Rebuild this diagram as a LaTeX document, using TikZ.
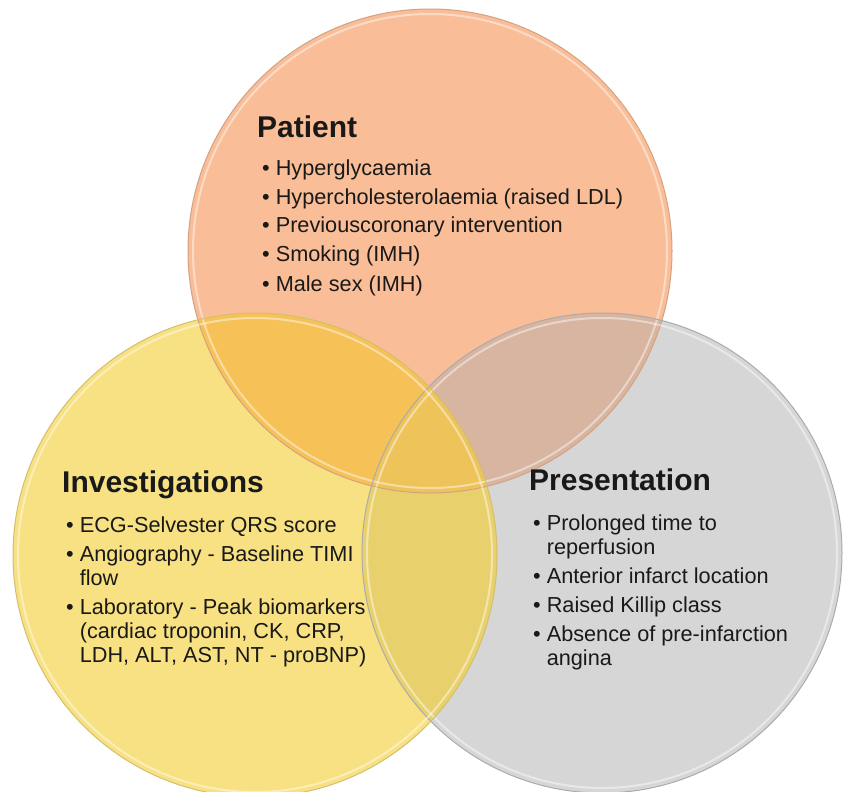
\documentclass[tikz,border=0pt]{standalone}
\usepackage{fontspec}
\setmainfont{Liberation Sans}
\usepackage{tikz}
\usetikzlibrary{positioning}
\definecolor{patientfill}{RGB}{249,190,152}
\definecolor{investfill}{RGB}{248,225,130}
\definecolor{presentfill}{RGB}{214,214,214}
\definecolor{patinvfill}{RGB}{246,194,88}
\definecolor{patprefill}{RGB}{216,181,160}
\definecolor{invprefill}{RGB}{232,209,108}
\definecolor{allfill}{RGB}{237,195,90}
\tikzset{
  heading/.style={anchor=base west, inner sep=0pt, text=black!90,
    font=\fontsize{30}{35}\selectfont\bfseries},
  points/.style={anchor=base west, inner sep=0pt, text=black!90,
    font=\fontsize{21.7}{24}\selectfont},
  rim/.style={draw=#1, line width=1pt},
  shine/.style={draw=white, draw opacity=0.45, line width=2pt}
}

\begin{document}
\begin{tikzpicture}[x=1pt, y=-1pt]
    \useasboundingbox (0,0) rectangle (844,792);
    \coordinate (patc) at (430,251);
    \coordinate (invc) at (255,555);
    \coordinate (prec) at (602,553);

    % plain discs
    \fill[patientfill] (patc) circle[radius=242pt];
    \fill[presentfill] (prec) circle[radius=240pt];
    \fill[investfill] (invc) circle[radius=242pt];

    % overlaps
    \begin{scope}
      \clip (patc) circle[radius=242pt];
      \fill[patinvfill] (invc) circle[radius=242pt];
      \fill[patprefill] (prec) circle[radius=240pt];
    \end{scope}
    \begin{scope}
      \clip (invc) circle[radius=242pt];
      \fill[invprefill] (prec) circle[radius=240pt];
      \clip (patc) circle[radius=242pt];
      \fill[allfill] (prec) circle[radius=240pt];
    \end{scope}

    % glassy rims
    \draw[rim=patientfill!85!black] (patc) circle[radius=242pt];
    \draw[shine] (patc) circle[radius=237pt];
    \draw[rim=presentfill!80!black] (prec) circle[radius=240pt];
    \draw[shine] (prec) circle[radius=235pt];
    \draw[rim=investfill!85!black] (invc) circle[radius=242pt];
    \draw[shine] (invc) circle[radius=237pt];

    \node[heading] (pattitle) at (257,137) {Patient};
    \node[points] (patlist) at (262,175) {\begin{tabular}[t]{@{}l@{\hspace{6pt}}l@{}}
      \textbullet & Hyperglycaemia\\[5pt]
      \textbullet & Hypercholesterolaemia (raised LDL)\\[5pt]
      \textbullet & Previouscoronary intervention\\[5pt]
      \textbullet & Smoking (IMH)\\[5pt]
      \textbullet & Male sex (IMH)
    \end{tabular}};

    \node[heading] (invtitle) at (62,492) {Investigations};
    \node[points] (invlist) at (66,532) {\begin{tabular}[t]{@{}l@{\hspace{6pt}}l@{}}
      \textbullet & ECG-Selvester QRS score\\[5pt]
      \textbullet & Angiography - Baseline TIMI\\
                  & flow\\[5pt]
      \textbullet & Laboratory - Peak biomarkers\\
                  & (cardiac troponin, CK, CRP,\\
                  & LDH, ALT, AST, NT - proBNP)
    \end{tabular}};

    \node[heading] (pretitle) at (529,490) {Presentation};
    \node[points] (prelist) at (533,530) {\begin{tabular}[t]{@{}l@{\hspace{6pt}}l@{}}
      \textbullet & Prolonged time to\\
                  & reperfusion\\[5pt]
      \textbullet & Anterior infarct location\\[5pt]
      \textbullet & Raised Killip class\\[5pt]
      \textbullet & Absence of pre-infarction\\
                  & angina
    \end{tabular}};
\end{tikzpicture}
\end{document}
